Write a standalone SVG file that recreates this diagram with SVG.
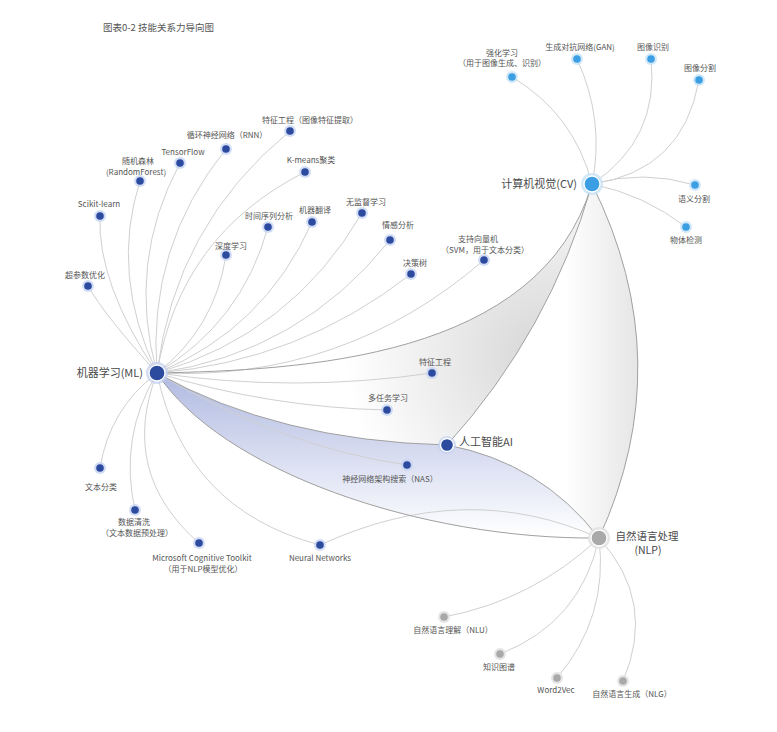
<svg xmlns="http://www.w3.org/2000/svg" width="777" height="732" viewBox="0 0 777 732">
<style>
text{font-family:"Noto Sans CJK SC","Noto Sans",sans-serif;fill:#555;font-size:8px;text-anchor:middle}
.big{font-size:11px;fill:#4a4a4a}
.nlp{font-size:10.5px}
.title{font-size:9.5px;fill:#555;text-anchor:start}
.leaf{fill:none;stroke:#d0d0d0;stroke-width:1}
.main{fill:none;stroke:#a0a0a0;stroke-width:1}
.hb{fill:#c3d1f2;opacity:.75}
.db{fill:#2c4a9e}
.hc{fill:#c6e2f8;opacity:.8}
.dc{fill:#3c9fe3}
.hg{fill:#e2e2e2;opacity:.9}
.dg{fill:#a9a9a9}
.ring{stroke:#fff;stroke-width:1.3}
</style>
<defs>
<radialGradient id="gTri" gradientUnits="userSpaceOnUse" cx="545" cy="355" r="200">
<stop offset="0" stop-color="#d6d6d6"/>
<stop offset="0.5" stop-color="#ebebeb"/>
<stop offset="1" stop-color="#ffffff"/>
</radialGradient>
<linearGradient id="gLens" gradientUnits="userSpaceOnUse" x1="565" y1="0" x2="665" y2="0">
<stop offset="0" stop-color="#ffffff"/>
<stop offset="1" stop-color="#dcdcdc"/>
</linearGradient>
<linearGradient id="gBlue" gradientUnits="userSpaceOnUse" x1="0" y1="385" x2="0" y2="535">
<stop offset="0" stop-color="#b6bfe3"/>
<stop offset="0.45" stop-color="#d6dbf0"/>
<stop offset="1" stop-color="#ffffff"/>
</linearGradient>
</defs>
<rect width="777" height="732" fill="#fff"/>
<text class="title" x="103" y="31">图表0-2 技能关系力导向图</text>
<g id="areas">
<path d="M157,373 C300,370 540,360 592,184 Q550,331.5 447,445 Q278,441 157,373 Z" fill="url(#gTri)"/>
<path d="M447,445 Q550,331.5 592,184 Q680,361 599,538 Q540.7,462.5 447,445 Z" fill="url(#gLens)"/>
<path d="M157,373 Q278,441 447,445 Q540.7,462.5 599,538 C420,540 220,470 157,373 Z" fill="url(#gBlue)"/>
</g>
<g id="connectors">
<path class="leaf" d="M157,373 Q175,225 290,131"/>
<path class="leaf" d="M157,373 Q147,247 226,149"/>
<path class="leaf" d="M157,373 Q126.5,263 180,163"/>
<path class="leaf" d="M157,373 Q110,274 140,181"/>
<path class="leaf" d="M157,373 Q97,283 100,216"/>
<path class="leaf" d="M157,373 Q105,316 88,286"/>
<path class="leaf" d="M157,373 Q180,235 305,172"/>
<path class="leaf" d="M157,373 Q215,328 226,255"/>
<path class="leaf" d="M157,373 Q242,322 268,227"/>
<path class="leaf" d="M157,373 Q265,328.5 312,222"/>
<path class="leaf" d="M157,373 Q291.5,334 362,213"/>
<path class="leaf" d="M157,373 Q300,353 390,240"/>
<path class="leaf" d="M157,373 Q299,361.6 411,274"/>
<path class="leaf" d="M157,373 Q343,382 484,260"/>
<path class="leaf" d="M157,373 Q294.5,393 432,373"/>
<path class="leaf" d="M157,373 Q269.5,407.5 387,410"/>
<path class="leaf" d="M157,373 Q282,447 407,465"/>
<path class="leaf" d="M157,373 Q109.5,409 100,468"/>
<path class="leaf" d="M157,373 Q118.6,437 135,510"/>
<path class="leaf" d="M157,373 Q118.5,472.7 199,543"/>
<path class="leaf" d="M157,373 Q185,509.5 320,545"/>
<path class="leaf" d="M320,545 Q466,478 599,538"/>
<path class="main" d="M157,373 C300,370 540,360 592,184"/>
<path class="main" d="M157,373 Q278,441 447,445"/>
<path class="main" d="M157,373 C220,470 420,540 599,538"/>
<path class="main" d="M447,445 Q550,331.5 592,184"/>
<path class="main" d="M592,184 Q680,361 599,538"/>
<path class="main" d="M447,445 Q540.7,462.5 599,538"/>
<path class="leaf" d="M592,184 Q574,114 512,77"/>
<path class="leaf" d="M592,184 Q605,120 577,59"/>
<path class="leaf" d="M592,184 Q659.5,139.4 651,59"/>
<path class="leaf" d="M592,184 Q683,171 699,80"/>
<path class="leaf" d="M592,184 Q643.5,169.5 695,185"/>
<path class="leaf" d="M592,184 Q644,194.6 686,227"/>
<path class="leaf" d="M599,538 Q533,600 444,617"/>
<path class="leaf" d="M599,538 Q580.7,622.6 500,654"/>
<path class="leaf" d="M599,538 Q608.7,617 557,678"/>
<path class="leaf" d="M599,538 Q657,601.7 623,681"/>
</g>
<g id="n-ml"><circle class="hb" cx="157" cy="373" r="11"/><circle class="db ring" cx="157" cy="373" r="8"/><text class="big" x="143" y="377" style="text-anchor:end">机器学习(ML)</text></g>
<g id="n-cv"><circle class="hc" cx="592" cy="184" r="11"/><circle class="dc ring" cx="592" cy="184" r="8"/><text class="big" x="577" y="188" style="text-anchor:end">计算机视觉(CV)</text></g>
<g id="n-ai"><circle class="hb" cx="447" cy="445" r="9"/><circle class="db ring" cx="447" cy="445" r="6.5"/><text class="big" x="459" y="446" style="text-anchor:start">人工智能AI</text></g>
<g id="n-nlp"><circle class="hg" cx="599" cy="538" r="11"/><circle class="dg ring" cx="599" cy="538" r="8"/><text class="big nlp" x="647" y="540">自然语言处理</text><text class="big nlp" x="648" y="554">(NLP)</text></g>
<g id="n-tzgc-img"><circle class="hb" cx="290" cy="131" r="6"/><circle class="db" cx="290" cy="131" r="3.8"/><text x="310" y="123">特征工程（图像特征提取）</text></g>
<g id="n-rnn"><circle class="hb" cx="226" cy="149" r="6"/><circle class="db" cx="226" cy="149" r="3.8"/><text x="227" y="138">循环神经网络（RNN）</text></g>
<g id="n-tf"><circle class="hb" cx="180" cy="163" r="6"/><circle class="db" cx="180" cy="163" r="3.8"/><text x="183" y="155">TensorFlow</text></g>
<g id="n-rf"><circle class="hb" cx="140" cy="181" r="6"/><circle class="db" cx="140" cy="181" r="3.8"/><text x="138" y="164">随机森林</text><text x="136" y="174.5">(RandomForest)</text></g>
<g id="n-sk"><circle class="hb" cx="100" cy="216" r="6"/><circle class="db" cx="100" cy="216" r="3.8"/><text x="99" y="207">Scikit-learn</text></g>
<g id="n-hp"><circle class="hb" cx="88" cy="286" r="6"/><circle class="db" cx="88" cy="286" r="3.8"/><text x="85" y="278">超参数优化</text></g>
<g id="n-km"><circle class="hb" cx="305" cy="172" r="6"/><circle class="db" cx="305" cy="172" r="3.8"/><text x="311" y="163">K-means聚类</text></g>
<g id="n-ts"><circle class="hb" cx="268" cy="227" r="6"/><circle class="db" cx="268" cy="227" r="3.8"/><text x="269" y="219">时间序列分析</text></g>
<g id="n-mt"><circle class="hb" cx="312" cy="222" r="6"/><circle class="db" cx="312" cy="222" r="3.8"/><text x="315" y="213">机器翻译</text></g>
<g id="n-ul"><circle class="hb" cx="362" cy="213" r="6"/><circle class="db" cx="362" cy="213" r="3.8"/><text x="366" y="205">无监督学习</text></g>
<g id="n-dl"><circle class="hb" cx="226" cy="255" r="6"/><circle class="db" cx="226" cy="255" r="3.8"/><text x="231" y="249">深度学习</text></g>
<g id="n-sa"><circle class="hb" cx="390" cy="240" r="6"/><circle class="db" cx="390" cy="240" r="3.8"/><text x="398" y="228">情感分析</text></g>
<g id="n-dt"><circle class="hb" cx="411" cy="274" r="6"/><circle class="db" cx="411" cy="274" r="3.8"/><text x="415" y="266">决策树</text></g>
<g id="n-svm"><circle class="hb" cx="484" cy="260" r="6"/><circle class="db" cx="484" cy="260" r="3.8"/><text x="478" y="242">支持向量机</text><text x="485" y="252.5">（SVM，用于文本分类）</text></g>
<g id="n-fe"><circle class="hb" cx="432" cy="373" r="6"/><circle class="db" cx="432" cy="373" r="3.8"/><text x="435" y="365">特征工程</text></g>
<g id="n-mtl"><circle class="hb" cx="387" cy="410" r="6"/><circle class="db" cx="387" cy="410" r="3.8"/><text x="388" y="401">多任务学习</text></g>
<g id="n-nas"><circle class="hb" cx="407" cy="465" r="6"/><circle class="db" cx="407" cy="465" r="3.8"/><text x="390" y="482">神经网络架构搜索（NAS）</text></g>
<g id="n-tc"><circle class="hb" cx="100" cy="468" r="6"/><circle class="db" cx="100" cy="468" r="3.8"/><text x="101" y="490">文本分类</text></g>
<g id="n-dc"><circle class="hb" cx="135" cy="510" r="6"/><circle class="db" cx="135" cy="510" r="3.8"/><text x="134" y="525">数据清洗</text><text x="137" y="535.5">（文本数据预处理）</text></g>
<g id="n-cntk"><circle class="hb" cx="199" cy="543" r="6"/><circle class="db" cx="199" cy="543" r="3.8"/><text x="202" y="561">Microsoft Cognitive Toolkit</text><text x="203" y="572">（用于NLP模型优化）</text></g>
<g id="n-nn"><circle class="hb" cx="320" cy="545" r="6"/><circle class="db" cx="320" cy="545" r="3.8"/><text x="320" y="561">Neural Networks</text></g>
<g id="n-rl"><circle class="hc" cx="512" cy="77" r="6"/><circle class="dc" cx="512" cy="77" r="3.8"/><text x="502" y="55.5">强化学习</text><text x="502" y="66">（用于图像生成、识别）</text></g>
<g id="n-gan"><circle class="hc" cx="577" cy="59" r="6"/><circle class="dc" cx="577" cy="59" r="3.8"/><text x="580" y="50">生成对抗网络(GAN)</text></g>
<g id="n-ir"><circle class="hc" cx="651" cy="59" r="6"/><circle class="dc" cx="651" cy="59" r="3.8"/><text x="653" y="50">图像识别</text></g>
<g id="n-is"><circle class="hc" cx="699" cy="80" r="6"/><circle class="dc" cx="699" cy="80" r="3.8"/><text x="700" y="71">图像分割</text></g>
<g id="n-ss"><circle class="hc" cx="695" cy="185" r="6"/><circle class="dc" cx="695" cy="185" r="3.8"/><text x="694" y="202">语义分割</text></g>
<g id="n-od"><circle class="hc" cx="686" cy="227" r="6"/><circle class="dc" cx="686" cy="227" r="3.8"/><text x="686" y="243">物体检测</text></g>
<g id="n-nlu"><circle class="hg" cx="444" cy="617" r="6"/><circle class="dg" cx="444" cy="617" r="3.8"/><text x="453" y="633">自然语言理解（NLU）</text></g>
<g id="n-kg"><circle class="hg" cx="500" cy="654" r="6"/><circle class="dg" cx="500" cy="654" r="3.8"/><text x="499" y="670">知识图谱</text></g>
<g id="n-w2v"><circle class="hg" cx="557" cy="678" r="6"/><circle class="dg" cx="557" cy="678" r="3.8"/><text x="556" y="693">Word2Vec</text></g>
<g id="n-nlg"><circle class="hg" cx="623" cy="681" r="6"/><circle class="dg" cx="623" cy="681" r="3.8"/><text x="632" y="697">自然语言生成（NLG）</text></g>
</svg>
